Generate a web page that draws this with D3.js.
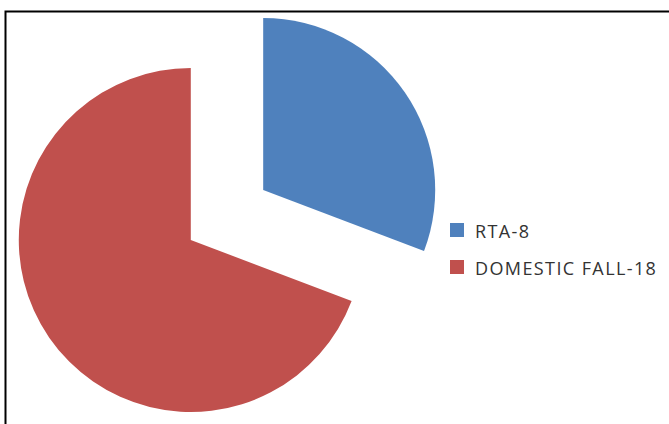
<!DOCTYPE html>
<html>
<head>
<meta charset="utf-8">
<script src="https://cdn.jsdelivr.net/npm/d3@7"></script>
<style>
  body { margin: 0; background: #fff; }
  svg { display: block; }
</style>
</head>
<body>
<svg id="chart" width="669" height="424"></svg>
<script>
const labels = ["RTA-8", "DOMESTIC FALL-18"];
const values = [8, 18];
const colors = ["#4F81BD", "#C0504D"];

const svg = d3.select("#chart");

// frame is cut off at the right and bottom of the picture
svg.append("path")
  .attr("d", "M5.5,424 V11.5 H669")
  .attr("fill", "none")
  .attr("stroke", "#000")
  .attr("stroke-width", 2);

const cx = 227;
const cy = 215;
const radius = 172;
const explode = 44;

const pieGen = d3.pie().sort(null);
const arcData = pieGen(values);
const arcGen = d3.arc().innerRadius(0).outerRadius(radius);

const g = svg.append("g").attr("transform", `translate(${cx}, ${cy})`);

// pull each slice out along its mid angle
g.selectAll("path")
  .data(arcData)
  .enter()
  .append("path")
  .attr("d", arcGen)
  .attr("fill", (d, i) => colors[i])
  .attr("transform", (d) => {
    const mid = (d.startAngle + d.endAngle) / 2;
    return `translate(${Math.sin(mid) * explode}, ${-Math.cos(mid) * explode})`;
  });

const legend = svg.append("g").attr("transform", "translate(450, 223)");
const items = legend
  .selectAll("g")
  .data(labels)
  .enter()
  .append("g")
  .attr("transform", (d, i) => `translate(0, ${i * 37})`);

items.append("rect")
  .attr("width", 14)
  .attr("height", 14)
  .attr("fill", (d, i) => colors[i]);

items.append("text")
  .attr("x", 25)
  .attr("y", 15)
  .style("font-family", "'Open Sans', sans-serif")
  .style("font-size", "18px")
  .style("letter-spacing", "1.4px")
  .style("fill", "#333")
  .text((d) => d);
</script>
</body>
</html>
